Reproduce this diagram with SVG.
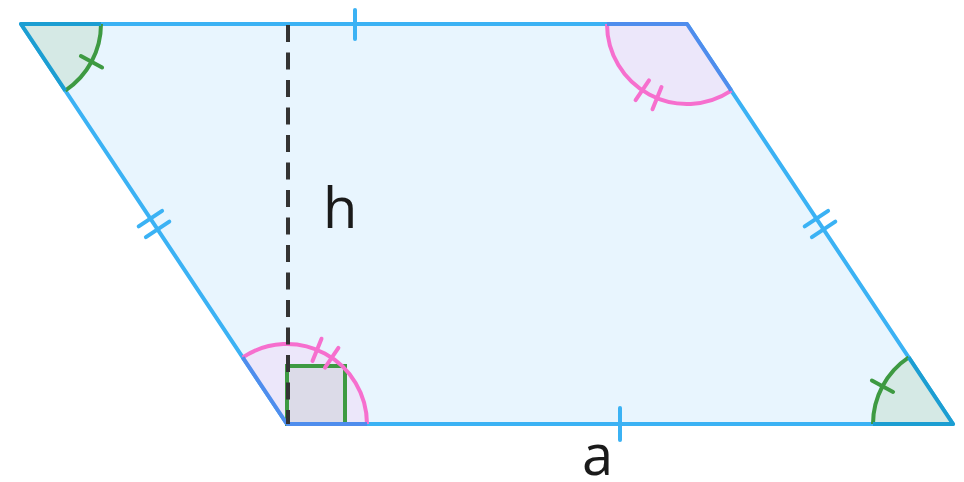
<svg xmlns="http://www.w3.org/2000/svg" width="964" height="482" viewBox="0 0 964 482">
<style>
.edge{fill:#e8f5fe;stroke:#3bb2f4;stroke-width:4;stroke-linejoin:round}
.tick{stroke:#3bb2f4;stroke-width:4;stroke-linecap:round;fill:none}
.gfill{fill:#d5e9e5;stroke:none}
.parc{fill:none;stroke:#f66fce;stroke-width:4}
.garc{fill:none;stroke:#3e9a42;stroke-width:4}
.pfill{fill:#ece7fa;stroke:none}
.gside{fill:none;stroke:#1c9ed2;stroke-width:4;stroke-linejoin:round}
.pside{fill:none;stroke:#4f8ded;stroke-width:4;stroke-linejoin:round}
.lbl{font-family:"Open Sans","DejaVu Sans",sans-serif;font-size:56px;fill:#1a1a1a}
</style>
<g id="parallelogram">
<path class="edge" d="M21,24 L687,24 L953,424 L287,424 Z"/>
</g>
<g id="angle-top-left">
<path class="gfill" d="M21,24 L101,24 A80,80 0 0 1 65.3,90.6 Z"/>
<path class="garc" d="M101,24 A80,80 0 0 1 65.3,90.6"/>
<line class="garc" x1="80.9" y1="56.1" x2="102.1" y2="67.5" stroke-linecap="round"/>
<path class="gside" d="M101,24 L21,24 L65.3,90.6"/>
</g>
<g id="angle-bottom-right">
<path class="gfill" d="M953,424 L873,424 A80,80 0 0 1 908.7,357.4 Z"/>
<path class="garc" d="M873,424 A80,80 0 0 1 908.7,357.4"/>
<line class="garc" x1="871.9" y1="380.5" x2="893.1" y2="391.9" stroke-linecap="round"/>
<path class="gside" d="M873,424 L953,424 L908.7,357.4"/>
</g>
<g id="angle-top-right">
<path class="pfill" d="M687,24 L731.3,90.6 A80,80 0 0 1 607,24 Z"/>
<path class="parc" d="M731.3,90.6 A80,80 0 0 1 607,24"/>
<line class="parc" x1="661.5" y1="87.1" x2="652.5" y2="109.3" stroke-linecap="round"/>
<line class="parc" x1="649" y1="80.4" x2="635.6" y2="100.2" stroke-linecap="round"/>
<path class="pside" d="M607,24 L687,24 L731.3,90.6"/>
</g>
<g id="angle-bottom-left">
<path class="pfill" d="M287,424 L242.7,357.4 A80,80 0 0 1 367,424 Z"/>
<rect x="287" y="366" width="58" height="58" fill="#dcdbe8" stroke="#3e9a42" stroke-width="4"/>
<path class="parc" d="M242.7,357.4 A80,80 0 0 1 367,424"/>
<line class="parc" x1="312.5" y1="360.9" x2="321.5" y2="338.7" stroke-linecap="round"/>
<line class="parc" x1="325" y1="367.6" x2="338.4" y2="347.8" stroke-linecap="round"/>
<path class="pside" d="M242.7,357.4 L287,424 L367,424"/>
</g>
<g id="connectors">
<line x1="288" y1="25" x2="288" y2="424" stroke="#333" stroke-width="4" stroke-dasharray="17 10.5"/>
</g>
<g id="side-ticks">
<line class="tick" x1="355" y1="10" x2="355" y2="39"/>
<line class="tick" x1="620" y1="408" x2="620" y2="440"/>
<line class="tick" x1="138.7" y1="226.4" x2="162.1" y2="210.8"/>
<line class="tick" x1="145.9" y1="237.2" x2="169.3" y2="221.6"/>
<line class="tick" x1="804.7" y1="226.4" x2="828.1" y2="210.8"/>
<line class="tick" x1="811.9" y1="237.2" x2="835.3" y2="221.6"/>
</g>
<g id="label-h"><text class="lbl" x="323" y="228">h</text></g>
<g id="label-a"><text class="lbl" x="582" y="475">a</text></g>
</svg>
